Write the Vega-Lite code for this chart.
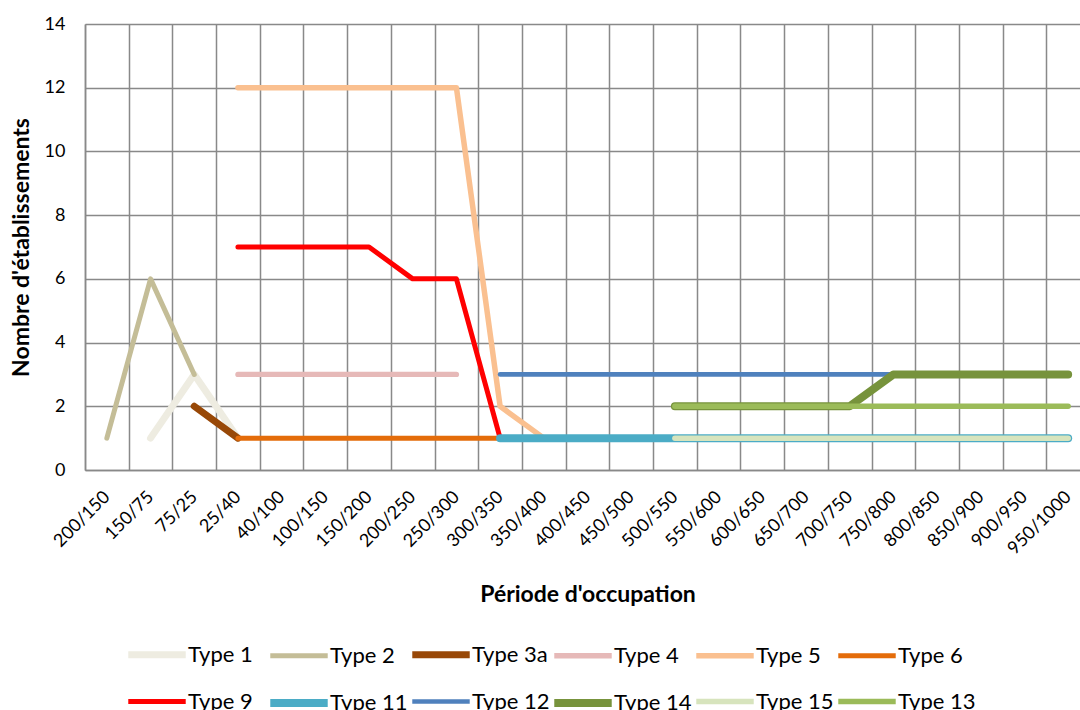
{
  "$schema": "https://vega.github.io/schema/vega-lite/v6.json",
  "width": 1005,
  "height": 446,
  "autosize": {"type": "none"},
  "padding": {"left": 85, "top": 24, "right": 0, "bottom": 240},
  "background": "white",
  "config": {"view": {"stroke": null}, "font": "Lato"},
  "data": {"values": [
    {"t": "Type 1", "p": "150/75", "n": 1},
    {"t": "Type 1", "p": "75/25", "n": 3},
    {"t": "Type 1", "p": "25/40", "n": 1},
    {"t": "Type 2", "p": "200/150", "n": 1},
    {"t": "Type 2", "p": "150/75", "n": 6},
    {"t": "Type 2", "p": "75/25", "n": 3},
    {"t": "Type 3a", "p": "75/25", "n": 2},
    {"t": "Type 3a", "p": "25/40", "n": 1},
    {"t": "Type 4", "p": "25/40", "n": 3},
    {"t": "Type 4", "p": "40/100", "n": 3},
    {"t": "Type 4", "p": "100/150", "n": 3},
    {"t": "Type 4", "p": "150/200", "n": 3},
    {"t": "Type 4", "p": "200/250", "n": 3},
    {"t": "Type 4", "p": "250/300", "n": 3},
    {"t": "Type 5", "p": "25/40", "n": 12},
    {"t": "Type 5", "p": "40/100", "n": 12},
    {"t": "Type 5", "p": "100/150", "n": 12},
    {"t": "Type 5", "p": "150/200", "n": 12},
    {"t": "Type 5", "p": "200/250", "n": 12},
    {"t": "Type 5", "p": "250/300", "n": 12},
    {"t": "Type 5", "p": "300/350", "n": 2},
    {"t": "Type 5", "p": "350/400", "n": 1},
    {"t": "Type 6", "p": "25/40", "n": 1},
    {"t": "Type 6", "p": "40/100", "n": 1},
    {"t": "Type 6", "p": "100/150", "n": 1},
    {"t": "Type 6", "p": "150/200", "n": 1},
    {"t": "Type 6", "p": "200/250", "n": 1},
    {"t": "Type 6", "p": "250/300", "n": 1},
    {"t": "Type 6", "p": "300/350", "n": 1},
    {"t": "Type 9", "p": "25/40", "n": 7},
    {"t": "Type 9", "p": "40/100", "n": 7},
    {"t": "Type 9", "p": "100/150", "n": 7},
    {"t": "Type 9", "p": "150/200", "n": 7},
    {"t": "Type 9", "p": "200/250", "n": 6},
    {"t": "Type 9", "p": "250/300", "n": 6},
    {"t": "Type 9", "p": "300/350", "n": 1},
    {"t": "Type 11", "p": "300/350", "n": 1},
    {"t": "Type 11", "p": "350/400", "n": 1},
    {"t": "Type 11", "p": "400/450", "n": 1},
    {"t": "Type 11", "p": "450/500", "n": 1},
    {"t": "Type 11", "p": "500/550", "n": 1},
    {"t": "Type 11", "p": "550/600", "n": 1},
    {"t": "Type 11", "p": "600/650", "n": 1},
    {"t": "Type 11", "p": "650/700", "n": 1},
    {"t": "Type 11", "p": "700/750", "n": 1},
    {"t": "Type 11", "p": "750/800", "n": 1},
    {"t": "Type 11", "p": "800/850", "n": 1},
    {"t": "Type 11", "p": "850/900", "n": 1},
    {"t": "Type 11", "p": "900/950", "n": 1},
    {"t": "Type 11", "p": "950/1000", "n": 1},
    {"t": "Type 12", "p": "300/350", "n": 3},
    {"t": "Type 12", "p": "350/400", "n": 3},
    {"t": "Type 12", "p": "400/450", "n": 3},
    {"t": "Type 12", "p": "450/500", "n": 3},
    {"t": "Type 12", "p": "500/550", "n": 3},
    {"t": "Type 12", "p": "550/600", "n": 3},
    {"t": "Type 12", "p": "600/650", "n": 3},
    {"t": "Type 12", "p": "650/700", "n": 3},
    {"t": "Type 12", "p": "700/750", "n": 3},
    {"t": "Type 12", "p": "750/800", "n": 3},
    {"t": "Type 14", "p": "500/550", "n": 2},
    {"t": "Type 14", "p": "550/600", "n": 2},
    {"t": "Type 14", "p": "600/650", "n": 2},
    {"t": "Type 14", "p": "650/700", "n": 2},
    {"t": "Type 14", "p": "700/750", "n": 2},
    {"t": "Type 14", "p": "750/800", "n": 3},
    {"t": "Type 14", "p": "800/850", "n": 3},
    {"t": "Type 14", "p": "850/900", "n": 3},
    {"t": "Type 14", "p": "900/950", "n": 3},
    {"t": "Type 14", "p": "950/1000", "n": 3},
    {"t": "Type 15", "p": "500/550", "n": 1},
    {"t": "Type 15", "p": "550/600", "n": 1},
    {"t": "Type 15", "p": "600/650", "n": 1},
    {"t": "Type 15", "p": "650/700", "n": 1},
    {"t": "Type 15", "p": "700/750", "n": 1},
    {"t": "Type 15", "p": "750/800", "n": 1},
    {"t": "Type 15", "p": "800/850", "n": 1},
    {"t": "Type 15", "p": "850/900", "n": 1},
    {"t": "Type 15", "p": "900/950", "n": 1},
    {"t": "Type 15", "p": "950/1000", "n": 1},
    {"t": "Type 13", "p": "500/550", "n": 2},
    {"t": "Type 13", "p": "550/600", "n": 2},
    {"t": "Type 13", "p": "600/650", "n": 2},
    {"t": "Type 13", "p": "650/700", "n": 2},
    {"t": "Type 13", "p": "700/750", "n": 2},
    {"t": "Type 13", "p": "750/800", "n": 2},
    {"t": "Type 13", "p": "800/850", "n": 2},
    {"t": "Type 13", "p": "850/900", "n": 2},
    {"t": "Type 13", "p": "900/950", "n": 2},
    {"t": "Type 13", "p": "950/1000", "n": 2}
  ]},
  "mark": {"type": "line", "strokeCap": "round", "strokeJoin": "round"},
  "encoding": {
    "x": {
      "field": "p", "type": "nominal",
      "sort": ["200/150","150/75","75/25","25/40","40/100","100/150","150/200","200/250","250/300","300/350","350/400","400/450","450/500","500/550","550/600","600/650","650/700","700/750","750/800","800/850","850/900","900/950","950/1000"],
      "scale": {"type": "band", "paddingInner": 0, "paddingOuter": 0},
      "axis": {
        "title": "Période d'occupation",
        "tickBand": "extent",
        "grid": true, "gridColor": "#898989", "gridWidth": 1.5,
        "domainColor": "#898989", "domainWidth": 1.5,
        "ticks": false, "tickSize": 0,
        "labelAngle": -45, "labelAlign": "right", "labelBaseline": "middle",
        "labelPadding": 24, "labelFont": "Lato", "labelFontSize": 18, "labelColor": "#000000",
        "titleFont": "Lato", "titleFontSize": 23, "titleFontWeight": "bold", "titleColor": "#000000",
        "titleY": 113, "titleBaseline": "top"
      }
    },
    "y": {
      "field": "n", "type": "quantitative",
      "scale": {"domain": [0, 14], "nice": false, "zero": true},
      "axis": {
        "title": "Nombre d'établissements",
        "values": [0, 2, 4, 6, 8, 10, 12, 14],
        "grid": true, "gridColor": "#898989", "gridWidth": 1.5,
        "domainColor": "#898989", "domainWidth": 1.5,
        "ticks": false, "tickSize": 0,
        "labelPadding": 20, "labelFont": "Lato", "labelFontSize": 18, "labelColor": "#000000",
        "titleFont": "Lato", "titleFontSize": 23, "titleFontWeight": "bold", "titleColor": "#000000",
        "titleX": -64, "titleBaseline": "middle"
      }
    },
    "color": {
      "field": "t", "type": "nominal",
      "scale": {
        "domain": ["Type 1","Type 2","Type 3a","Type 4","Type 5","Type 6","Type 9","Type 11","Type 12","Type 14","Type 15","Type 13"],
        "range": ["#EEECE1","#C4BD97","#984807","#E6B9B8","#FAC090","#E46C0A","#FF0000","#4BACC6","#4F81BD","#77933C","#D7E4BD","#9BBB59"]
      },
      "legend": {
        "orient": "none", "legendX": 39, "legendY": 597,
        "direction": "horizontal", "columns": 6, "title": null,
        "symbolType": "stroke", "symbolSize": 3300,
        "labelFont": "Lato", "labelFontSize": 22, "labelColor": "#000000",
        "labelOffset": -2, "columnPadding": -15, "rowPadding": -14,
        "gridAlign": "all", "labelLimit": 200, "padding": 0
      }
    },
    "strokeWidth": {
      "field": "t", "type": "nominal",
      "scale": {
        "type": "ordinal",
        "domain": ["Type 1","Type 2","Type 3a","Type 4","Type 5","Type 6","Type 9","Type 11","Type 12","Type 14","Type 15","Type 13"],
        "range": [7, 5, 7, 5.3, 5.5, 5, 5, 8, 4.7, 8, 5.5, 5.5]
      },
      "legend": {
        "orient": "none", "legendX": 39, "legendY": 597,
        "direction": "horizontal", "columns": 6, "title": null,
        "symbolType": "stroke", "symbolSize": 3300,
        "labelFont": "Lato", "labelFontSize": 22, "labelColor": "#000000",
        "labelOffset": -2, "columnPadding": -15, "rowPadding": -14,
        "gridAlign": "all", "labelLimit": 200, "padding": 0
      }
    }
  }
}
